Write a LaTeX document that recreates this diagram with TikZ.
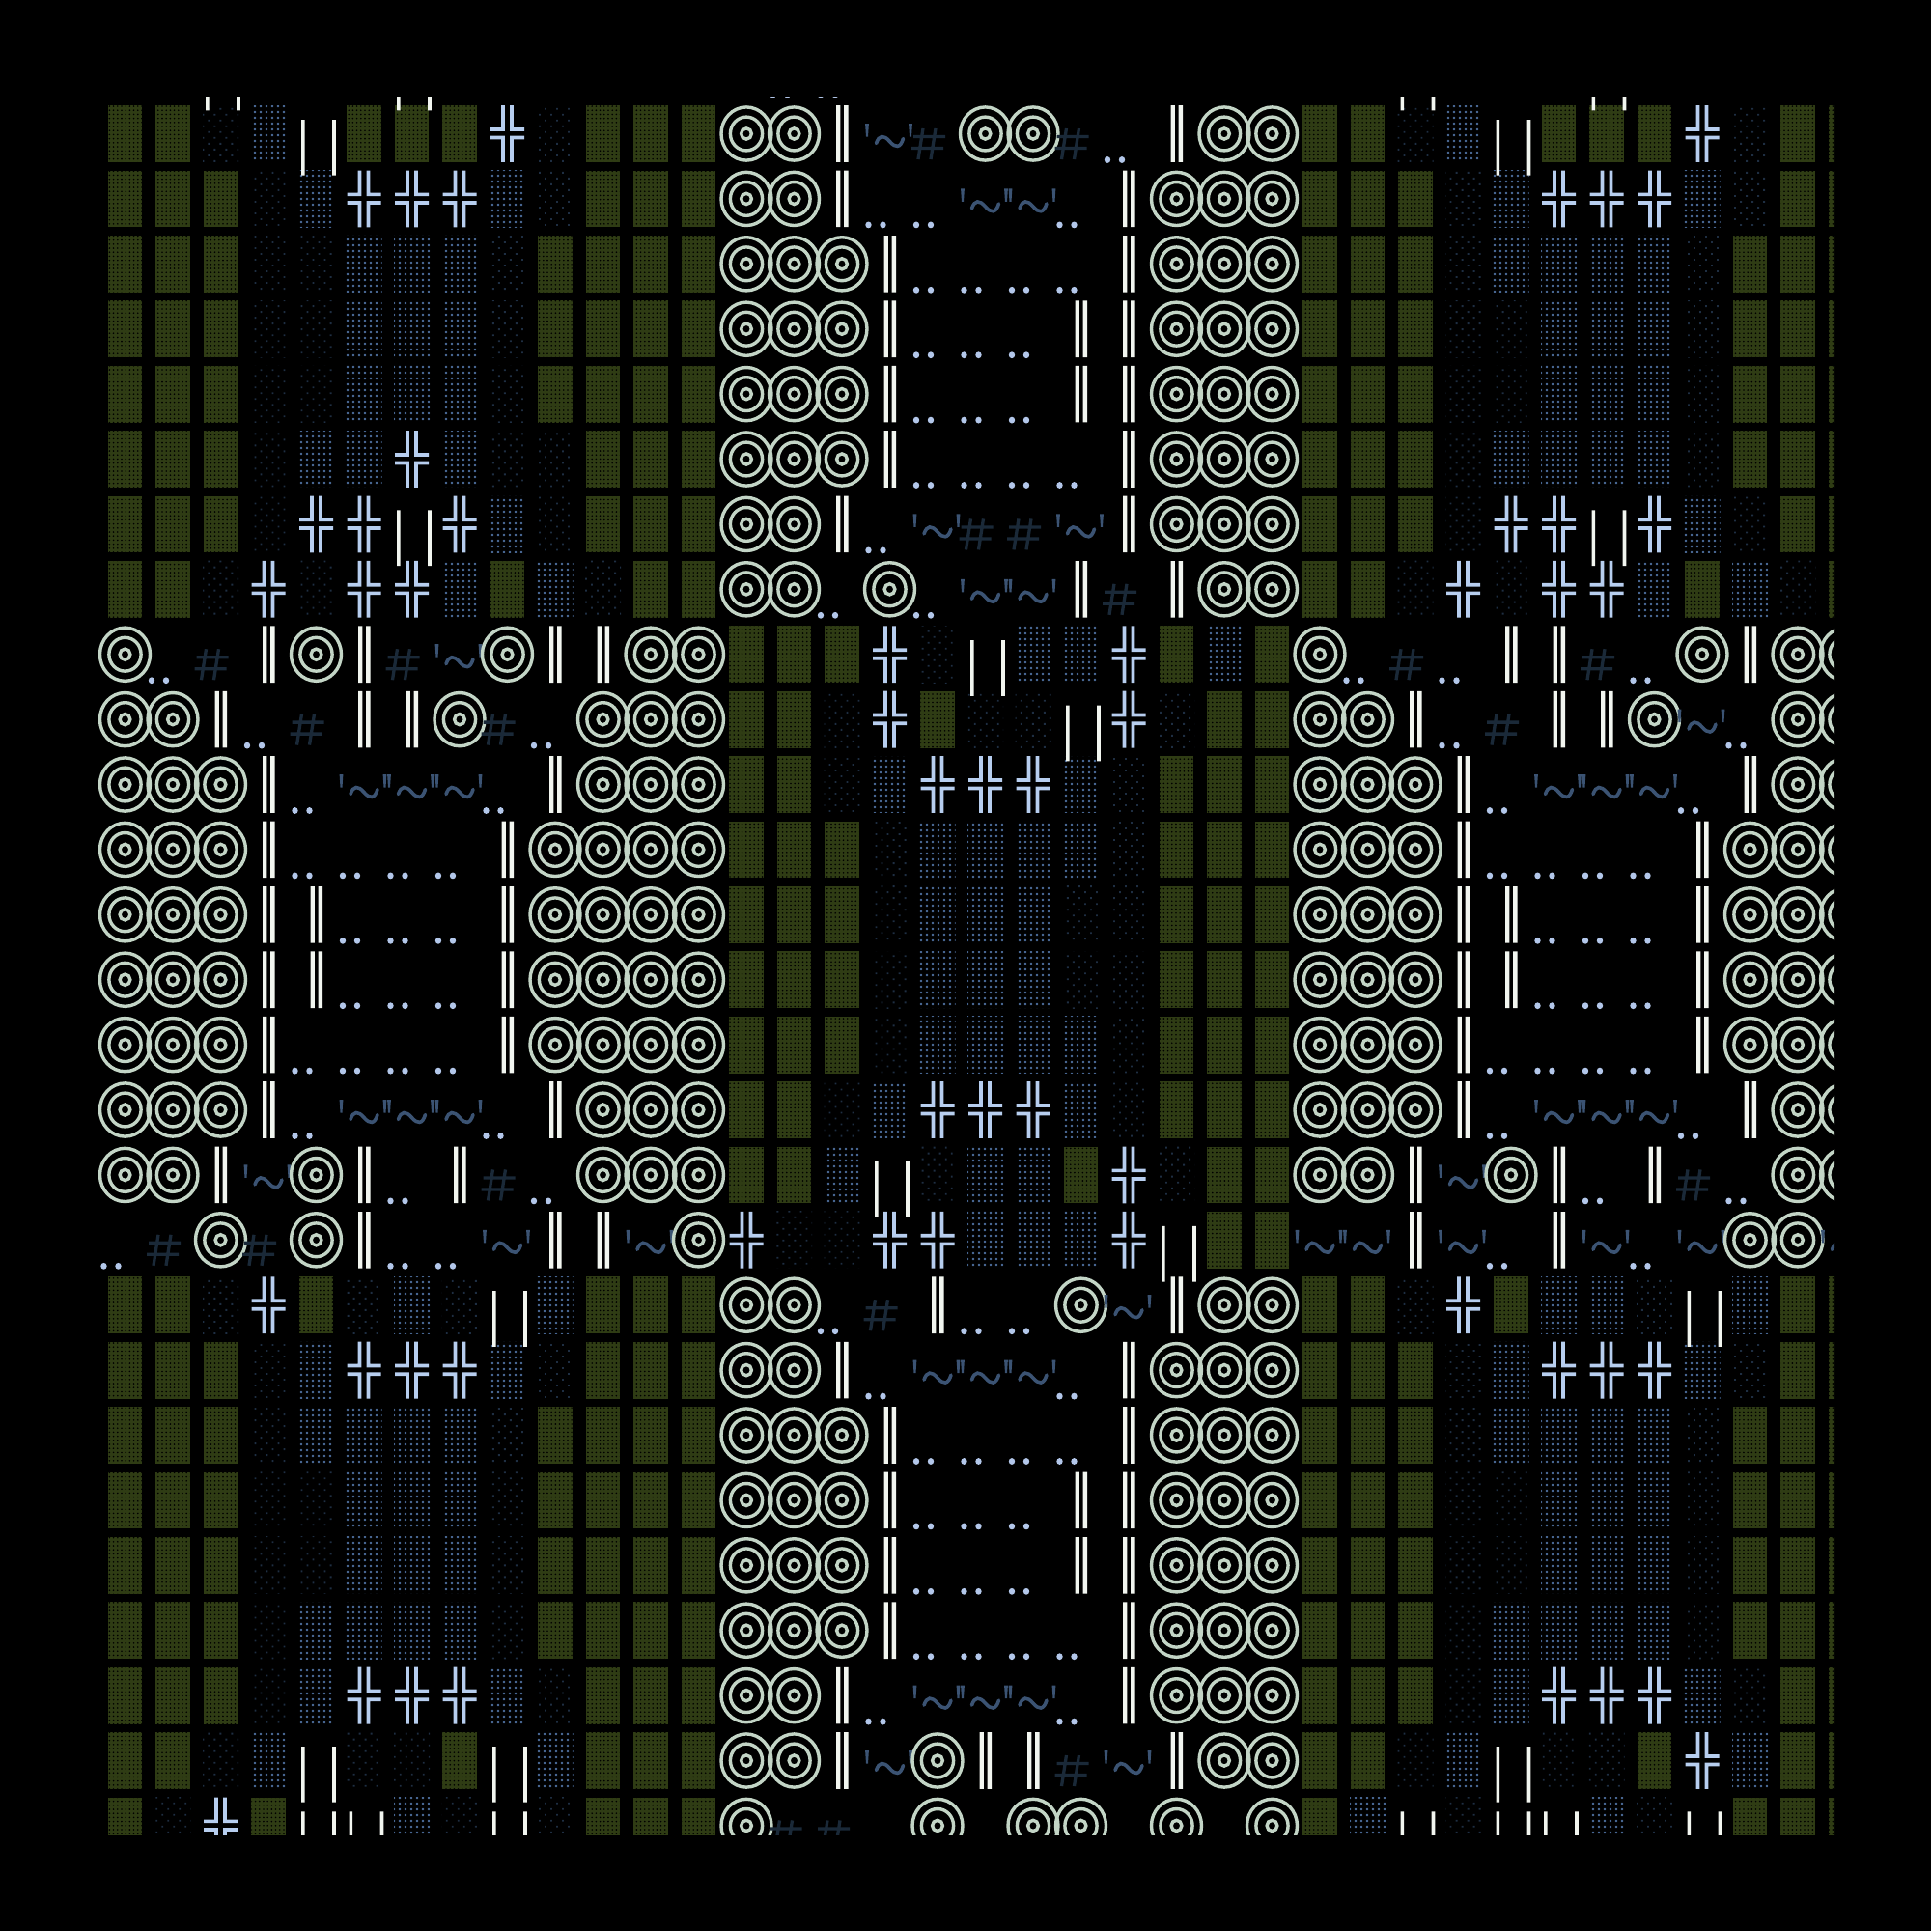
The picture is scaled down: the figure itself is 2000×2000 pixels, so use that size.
\documentclass[tikz,border=0pt]{standalone}
\usetikzlibrary{patterns.meta}
\definecolor{bgc}{HTML}{000000}
\definecolor{ocol}{HTML}{C3D5C6}
\definecolor{wcol}{HTML}{F2F6F0}
\definecolor{xcol}{HTML}{B7CEEF}
\definecolor{dcol}{HTML}{B3C7EA}
\definecolor{tcol}{HTML}{3B5373}
\definecolor{hcol}{HTML}{1A2938}
\definecolor{gcol}{HTML}{2F3C14}
\definecolor{bdot}{HTML}{4F70A0}
\definecolor{ddot}{HTML}{1E2E42}
\newcount\colno
\newcount\rowno
\def\cellpos{\pgfmathsetmacro\cx{129.5+49.5*(\the\colno)}\pgfmathsetmacro\cy{138.5+67.4*(\the\rowno)}}
\def\dorow#1{\colno=0 \dorowi#1\relax}
\def\dorowi#1{\ifx#1\relax\else\cellpos\csname gl#1\endcsname\advance\colno by 1 \expandafter\dorowi\fi}
% blocks
\def\blkG{\path[preaction={fill=gcol},pattern={Dots[distance=0.42mm,radius=0.09mm]},pattern color=black] (\cx-17.6,\cy-29.4) rectangle (\cx+17.6,\cy+29.4);}
\def\blkB{\path[pattern={Dots[distance=0.6mm,radius=0.145mm]},pattern color=bdot] (\cx-18.5,\cy-29.4) rectangle (\cx+18.5,\cy+29.4);}
\def\blkD{\path[pattern={Dots[distance=0.85mm,angle=45,radius=0.13mm]},pattern color=ddot] (\cx-18.5,\cy-29.4) rectangle (\cx+18.5,\cy+29.4);}
% glyphs
\def\glyO{\draw[ocol,line width=0.34mm] (\cx,\cy) ellipse [x radius=2.6mm,y radius=2.76mm] (\cx,\cy) ellipse [x radius=1.66mm,y radius=1.74mm] (\cx,\cy) ellipse [x radius=0.54mm,y radius=0.56mm];}
\def\glyW{\fill[wcol] (\cx-6,\cy-29.3) rectangle (\cx-1.6,\cy+29.3) (\cx+2.2,\cy-29.3) rectangle (\cx+6.6,\cy+29.3);}
\def\glyP{\fill[wcol] (\cx-15.5,\cy-14.5) rectangle (\cx-11.8,\cy+43.2) (\cx+16.6,\cy-14.5) rectangle (\cx+20.3,\cy+43.2);}
\def\glyX{\fill[xcol] (\cx-6.35,\cy-29.4) rectangle (\cx-2.65,\cy-2.7) (\cx+2.65,\cy-29.4) rectangle (\cx+6.35,\cy-2.7) (\cx-17.5,\cy-6.4) rectangle (\cx-2.65,\cy-2.7) (\cx+2.65,\cy-6.4) rectangle (\cx+17.5,\cy-2.7) (\cx-17.5,\cy+2.2) rectangle (\cx-2.65,\cy+5.9) (\cx+2.65,\cy+2.2) rectangle (\cx+17.5,\cy+5.9) (\cx-6.35,\cy+2.2) rectangle (\cx-2.65,\cy+29.4) (\cx+2.65,\cy+2.2) rectangle (\cx+6.35,\cy+29.4);}
\def\glyd{\fill[dcol] (\cx-22,\cy+27) ellipse [x radius=0.32mm,y radius=0.34mm] (\cx-7,\cy+27) ellipse [x radius=0.32mm,y radius=0.34mm];}
\def\glyT{\fill[tcol] (\cx-25.4,\cy-10.5) -- (\cx-21.6,\cy-10.5) -- (\cx-22.5,\cy+3) -- (\cx-24.5,\cy+3) -- cycle (\cx+19.6,\cy-10.5) -- (\cx+23.4,\cy-10.5) -- (\cx+22.5,\cy+3) -- (\cx+20.5,\cy+3) -- cycle; \draw[tcol,line width=0.36mm,line cap=round] (\cx-14,\cy+10) .. controls (\cx-11,\cy+1) and (\cx-6,\cy+1) .. (\cx,\cy+8) .. controls (\cx+6,\cy+15) and (\cx+11,\cy+15) .. (\cx+14,\cy+5);}
\def\glyH{\draw[hcol,line width=0.33mm] (\cx-15,\cy-5.5) -- (\cx-20,\cy+26.5) (\cx-2,\cy-5.5) -- (\cx-7,\cy+26.5) (\cx-25,\cy+3) -- (\cx+8,\cy+3) (\cx-27,\cy+15) -- (\cx+6,\cy+15);}
\def\passone{\let\glG\blkG\let\glB\blkB\let\glD\blkD\let\glO\relax\let\glW\relax\let\glP\relax\let\glX\relax\let\gld\relax\let\glT\relax\let\glH\relax\let\glN\relax}
\def\passtwo{\let\glG\relax\let\glB\relax\let\glD\relax\let\glO\glyO\let\glW\glyW\let\glP\glyP\let\glX\glyX\let\gld\glyd\let\glT\glyT\let\glH\glyH\let\glN\relax}
\def\allrows{%
\rowno=-1 \dorow{NNPNNNPNNNNNNNddNNNNNNNNNNNPNNNPNNNNN}%
\rowno=0 \dorow{GGDBPGGGXDGGGOOWTHOOHdWOOGGDBPGGGXDGG}%
\rowno=1 \dorow{GGGDBXXXBDGGGOOWddTTdWOOOGGGDBXXXBDGG}%
\rowno=2 \dorow{GGGDDBBBDGGGGOOOWddddWOOOGGGDBBBBDGGG}%
\rowno=3 \dorow{GGGDDBBBDGGGGOOOWdddWWOOOGGGDDBBBDGGG}%
\rowno=4 \dorow{GGGDDBBBDGGGGOOOWdddWWOOOGGGDDBBBDGGG}%
\rowno=5 \dorow{GGGDBBXBDDGGGOOOWddddWOOOGGGDBBBBDGGG}%
\rowno=6 \dorow{GGGDXXPXBDGGGOOWdTHHTWOOOGGGDXXPXBDGG}%
\rowno=7 \dorow{GGDXDXXBGBDGGOOdOdTTWHWOOGGDXDXXBGBDG}%
\rowno=8 \dorow{OdHWOWHTOWWOOGGGXDPBBXGBGOdHdWWHdOWOO}%
\rowno=9 \dorow{OOWdHWWOHdOOOGGDXGDDPXDGGOOWdHWWOTdOO}%
\rowno=10 \dorow{OOOWdTTTdWOOOGGDBXXXBDGGGOOOWdTTTdWOO}%
\rowno=11 \dorow{OOOWddddWOOOOGGGDBBBBDGGGOOOWddddWOOO}%
\rowno=12 \dorow{OOOWWdddWOOOOGGGDBBBDDGGGOOOWWdddWOOO}%
\rowno=13 \dorow{OOOWWdddWOOOOGGGDBBBDDGGGOOOWWdddWOOO}%
\rowno=14 \dorow{OOOWddddWOOOOGGGDBBBBDGGGOOOWddddWOOO}%
\rowno=15 \dorow{OOOWdTTTdWOOOGGDBXXXBDGGGOOOWdTTTdWOO}%
\rowno=16 \dorow{OOWTOWdWHdOOOGGBPDBBGXDGGOOWTOWdWHdOO}%
\rowno=17 \dorow{dHOHOWddTWWTOXDDXXBBBXPGGTTWTdWTdTOOT}%
\rowno=18 \dorow{GGDXGDBDPBGGGOOdHWddOTWOOGGDXGBBDPBGG}%
\rowno=19 \dorow{GGGDBXXXBDGGGOOWdTTTdWOOOGGGDBXXXBDGG}%
\rowno=20 \dorow{GGGDBBBBDGGGGOOOWddddWOOOGGGDBBBBDGGG}%
\rowno=21 \dorow{GGGDDBBBDGGGGOOOWdddWWOOOGGGDDBBBDGGG}%
\rowno=22 \dorow{GGGDDBBBDGGGGOOOWdddWWOOOGGGDDBBBDGGG}%
\rowno=23 \dorow{GGGDBBBBDGGGGOOOWddddWOOOGGGDBBBBDGGG}%
\rowno=24 \dorow{GGGDBXXXBDGGGOOWdTTTdWOOOGGGDBXXXBDGG}%
\rowno=25 \dorow{GGDBPDDGPBGGGOOWTOWWHTWOOGGDBPDDGXBGG}%
\rowno=26 \dorow{GDXGPPBDPDGGGOHHNONOONONOGBPDPPBDPGGG}%
}
\begin{document}
\begin{tikzpicture}[x=0.1mm,y=-0.1mm]
\useasboundingbox (0,0) rectangle (2000,2000);
\fill[bgc] (0,0) rectangle (2000,2000);
\begin{scope}
\clip (100,100) rectangle (1900,1900);
\passone
\allrows
\passtwo
\allrows
\end{scope}
\end{tikzpicture}
\end{document}
